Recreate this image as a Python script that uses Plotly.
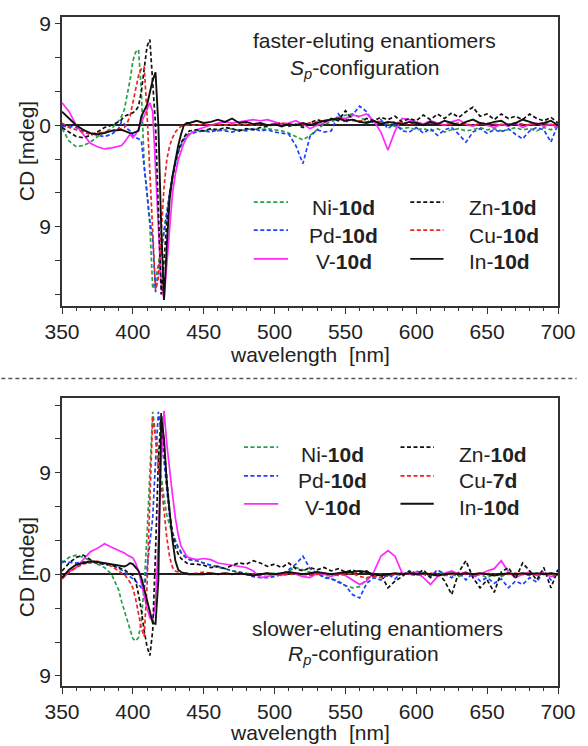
import plotly.graph_objects as go

# wavelength grid (nm) shared by both panels
wavelength = [350, 355, 360, 365, 370, 375, 380, 385,
              390, 392, 394, 396, 398, 400, 402, 404, 406, 408, 410, 412, 414,
              416, 418, 420, 422, 424, 426, 428, 430, 432, 434, 436, 438, 440,
              445, 450, 455, 460, 465, 470, 475, 480, 485, 490, 495, 500,
              505, 510, 515, 520, 525, 530, 535, 540, 545, 550, 555, 560,
              565, 570, 575, 580, 585, 590, 595, 600, 605, 610, 615, 620,
              625, 630, 635, 640, 645, 650, 655, 660, 665, 670, 675, 680,
              685, 690, 695, 700]

series = ["Ni", "Pd", "V", "Zn", "Cu", "In"]

# ---- faster-eluting enantiomers (Sp) ----
ni_top = [-0.3, -1.4, -1.9, -1.8, -1.5, -1.0, -0.6, -0.3,
          0.4, 0.8, 1.4, 2.6, 4.0, 5.7, 6.5, 6.7, 3.0, -3.5, -6.5, -8.8, -14.5,
          -13.8, -12.3, -10.8, -9.2, -7.6, -6.0, -4.6, -3.4, -2.4, -1.7, -1.2, -0.9, -0.7,
          -0.5, -0.5, -0.4, -0.5, -0.4, -0.3, -0.5, -0.4, -0.3, -0.4, -0.3, -0.4,
          -0.5, -0.7, -1.0, -1.3, -0.9, -0.4, 0.1, 0.3, 0.6, 0.9, 1.0, 0.7,
          0.4, 0.2, 0.3, 0.1, -0.1, -0.3, -0.2, -0.4, -0.3, -0.5, -0.3, -0.6,
          -0.4, -0.3, -0.5, -0.4, -0.2, -0.4, -0.3, -0.5, -0.4, -0.2, -0.4, -0.3,
          -0.5, -0.2, -0.4, -0.1]
pd_top = [-0.1, -0.1, -0.2, -0.5, -0.7, -0.9, -1.0, -0.8,
          -0.3, 0.35, 0.1, -0.3, -0.5, -0.9, -1.1, -1.2, -1.4, -3.5, -6.0, -8.5, -10.0,
          -14.8, -13.0, -11.3, -9.5, -7.8, -6.0, -4.5, -3.3, -2.4, -1.8, -1.3, -1.0, -0.8,
          -0.6, -0.5, -0.6, -0.4, -0.5, -0.6, -0.4, -0.5, -0.3, -0.5, -0.4, -0.6,
          -0.7, -0.8, -1.8, -3.4, -1.0, -0.4, -0.6, -0.5, 1.0, 0.2, 0.9, 1.7,
          1.2, 0.1, 0.5, -0.3, 0.2, -0.5, -0.6, -0.2, -0.7, -0.3, -0.9, -0.4,
          -0.2, -0.8, -1.5, -0.6, -0.3, -0.7, -0.4, -0.6, -0.3, -0.8, -1.2, -0.5,
          -0.2, -0.4, -1.5, 0.1]
v_top = [2.0, 1.2, 0.0, -0.8, -1.6, -1.9, -2.1, -2.0,
         -1.9, -1.8, -1.5, -1.2, -0.8, -1.1, -0.8, -0.3, 0.2, 0.8, 1.4, 2.0, 1.2,
         -4.0, -10.0, -14.0, -15.4, -12.0, -8.5, -6.0, -4.3, -3.1, -2.3, -1.6, -1.1, -0.8,
         -0.4, -0.2, 0.0, 0.2, 0.3, 0.2, 0.3, 0.4, 0.5, 0.4, 0.5, 0.3,
         0.1, 0.2, 0.4, 0.1, -0.3, 0.0, 0.2, 0.5, 0.7, 0.6, 0.9, 0.8,
         1.0, 0.4, -0.6, -2.2, -0.5, 0.6, 0.5, 0.3, 0.1, 0.4, 0.2, 0.0,
         0.3, 0.5, 0.1, -0.1, 0.2, 0.0, -0.2, 0.1, -0.1, 0.2, -0.2, 0.1,
         0.2, -0.1, 0.1, -0.2]
zn_top = [-0.2, -0.6, -1.0, -1.1, -0.9, -0.6, -0.2, 0.0,
          0.3, 0.5, 0.8, 0.9, 1.0, 1.1, 1.3, 1.7, 3.0, 5.2, 7.0, 7.6, 3.7,
          0.0, -7.5, -15.0, -12.0, -8.5, -6.0, -4.4, -3.2, -2.3, -1.6, -1.1, -0.7, -0.5,
          -0.4, -0.5, -0.3, -0.4, -0.2, -0.3, -0.5, -0.3, -0.4, -0.2, -0.1, 0.1,
          0.2, -0.1, 0.1, -0.2, 0.2, 0.5, 0.3, 0.6, 0.4, 1.3, 0.5, 0.3,
          0.6, 0.4, 0.7, 0.5, 0.8, 0.3, 0.6, 0.4, 0.9, 0.5, 1.0, 0.6,
          1.1, 0.7, 1.2, 1.6, 0.8, 1.0, 0.5, 1.0, 0.6, 0.8, 0.5, 1.0,
          0.6, 0.4, 0.7, 0.2]
cu_top = [0.2, -0.2, -0.4, -0.6, -0.8, -0.7, -0.6, -0.5,
          -0.4, -0.3, -0.2, 0.2, 0.8, 2.0, 3.3, 4.4, 5.0, 5.2, 1.0, -4.5, -10.5,
          -14.6, -13.5, -9.5, -5.5, -3.0, -1.8, -1.1, -0.6, -0.3, -0.1, 0.0, 0.0, 0.0,
          0.0, 0.1, 0.0, 0.1, 0.0, 0.1, 0.0, 0.1, 0.0, 0.1, 0.0, 0.1,
          0.2, 0.1, 0.0, 0.1, 0.2, 0.3, 0.4, 0.5, 0.6, 0.5, 0.4, 0.4,
          0.3, 0.4, 0.3, 0.2, 0.3, 0.2, 0.1, 0.2, 0.1, 0.2, 0.1, 0.0,
          0.1, 0.2, 0.1, 0.0, 0.1, 0.2, 0.1, 0.0, 0.1, 0.2, 0.1, 0.0,
          0.1, 0.2, 0.0, 0.1]
in_top = [1.2, 0.6, 0.0, -0.4, -0.7, -0.8, -0.7, -0.5,
          -0.4, -0.4, -0.5, -0.6, -0.7, -0.7, -0.6, -0.5, 0.8, 1.3, 1.8, 2.9, 4.0,
          4.7, 0.0, -9.0, -15.5, -10.5, -6.5, -4.5, -3.0, -1.8, -0.8, 0.0, 0.2, 0.2,
          0.4, 0.2, 0.3, 0.5, 0.3, 0.6, 0.2, 0.3, 0.1, 0.2, 0.0, 0.1,
          -0.1, 0.1, 0.0, 0.2, 0.0, 0.2, 0.4, 0.5, 0.6, 0.4, 0.5, 0.3,
          0.2, 0.4, 0.1, 0.3, 0.2, 0.1, 0.3, 0.2, 0.0, 0.3, 0.1, 0.4,
          0.2, 0.0, 0.3, 0.5, 0.2, 0.1, 0.3, 0.4, 0.0, 0.2, 0.5, 0.3,
          0.1, 0.2, 0.4, 0.0]

# ---- slower-eluting enantiomers (Rp) ----
ni_bot = [1.0, 1.5, 1.7, 1.5, 1.2, 0.9, 0.6, 0.0,
          -1.4, -2.4, -3.2, -4.1, -5.0, -5.7, -5.9, -5.6, -4.0, -1.0, 3.5, 8.5, 14.4,
          12.5, 10.5, 8.5, 6.8, 5.2, 4.3, 3.5, 2.9, 2.4, 2.0, 1.7, 1.5, 1.3,
          1.2, 1.0, 0.8, 0.6, 0.5, 0.3, 0.2, 0.1, 0.0, -0.1, 0.0, 0.1,
          0.0, 0.3, 0.6, 0.4, 0.2, 0.0, -0.2, -0.4, -0.6, -1.0, -1.2, -1.1,
          -0.4, -0.1, 0.0, -0.2, 0.0, -0.1, 0.2, 0.0, 0.1, -0.2, 0.0, 0.2,
          0.0, -0.2, 0.1, -0.1, 0.0, -0.3, 0.0, -0.2, 0.1, -0.1, 0.0, 0.2,
          -0.1, 0.0, 0.1, -0.1]
pd_bot = [1.15, 1.1, 1.0, 1.1, 1.0, 1.0, 0.9, 0.8,
          0.55, 0.4, 0.2, 0.0, -0.2, -0.4, -0.6, -0.9, -1.2, -1.3, 0.5, 2.8, 5.0,
          10.0, 14.4, 12.5, 10.0, 7.5, 5.0, 3.7, 2.9, 2.3, 1.9, 1.6, 1.4, 1.3,
          1.2, 1.0, 0.8, 0.7, 0.5, 0.3, 0.2, 0.0, -0.2, -0.3, -0.3, -0.2,
          0.0, 0.4, 0.9, 1.6, 0.5, 0.1, -0.3, -0.4, -0.7, -1.0, -1.8, -2.1,
          -0.8, -0.3, -0.5, 0.0, -0.4, 0.2, 0.0, 0.3, 0.0, -0.2, 0.4, 0.0,
          -0.3, 0.2, -0.5, 0.1, -0.6, -0.3, -0.8, -0.4, -1.2, -0.6, -0.9, -0.3,
          -0.7, 0.3, -0.5, 0.4]
v_bot = [-0.4, 0.2, 0.6, 1.3, 2.0, 2.3, 2.7, 2.4,
         2.1, 2.0, 1.9, 1.7, 1.6, 1.45, 1.0, 0.3, -0.8, -2.0, -3.0, -3.85, -4.1,
         -2.4, 3.0, 10.0, 14.5, 11.5, 9.0, 7.0, 5.0, 3.5, 2.5, 2.0, 1.6, 1.45,
         1.3, 1.4, 1.3, 1.0, 0.9, 0.8, 0.7, 0.6, 0.3, -0.3, -0.2, 0.0,
         -0.1, 0.2, 0.0, -0.2, -0.3, 0.1, 0.0, -0.2, 0.1, -0.1, -0.5, -0.9,
         -0.6, 0.2, 1.6, 2.1, 1.6, 0.1, 0.0, 0.2, -0.3, -0.9, -0.2, 0.1,
         0.3, 0.0, 0.2, -0.2, 0.0, 0.3, 0.5, 1.2, 0.2, -0.3, 0.0, 0.2,
         -0.1, 0.1, -0.2, 0.0]
zn_bot = [0.3, 1.0, 1.5, 1.7, 1.3, 1.0, 0.9, 0.8,
          0.6, 0.5, 0.4, 0.2, 0.1, -0.1, -0.6, -1.8, -3.2, -5.0, -6.4, -7.2, -5.0,
          2.0, 10.0, 14.3, 11.5, 8.5, 5.5, 3.5, 2.4, 1.8, 1.4, 1.2, 1.0, 0.9,
          0.9, 0.8, 0.6, 0.7, 0.5, 0.8, 1.0, 0.9, 1.2, 1.0, 0.7, 0.9,
          0.6, 1.0, 0.5, 0.3, 0.6, 0.4, 0.6, 0.3, 0.5, 0.2, 0.4, 0.1,
          0.3, -0.2, 0.0, -1.2, -0.6, -0.2, 0.3, 0.0, 0.4, -0.3, 0.2, -0.6,
          -1.8, 0.2, 1.2, -0.3, -1.2, -0.5, -1.6, 0.2, 0.6, -0.4, 1.0, 0.3,
          -0.5, 0.6, -1.2, 0.4]
cu_bot = [-0.4, 0.2, 0.6, 0.9, 1.1, 1.15, 1.0, 0.7,
          0.3, 0.1, 0.0, -0.3, -0.7, -1.2, -2.2, -3.5, -4.8, -5.5, -1.0, 6.5, 14.0,
          12.0, 9.5, 8.0, 5.5, 3.2, 1.5, 0.6, 0.3, 0.2, 0.1, 0.1, 0.0, 0.0,
          0.1, 0.2, 0.1, 0.0, 0.1, 0.0, 0.1, 0.0, -0.1, 0.0, 0.1, 0.0,
          -0.1, 0.0, 0.1, 0.0, -0.1, 0.0, 0.1, 0.0, -0.1, 0.0, 0.1, -0.2,
          -0.3, -0.2, -0.3, -0.1, 0.0, 0.1, 0.0, -0.1, 0.0, 0.1, 0.0, -0.1,
          0.0, 0.1, 0.0, -0.1, 0.0, 0.1, 0.0, -0.1, 0.0, 0.1, 0.0, -0.1,
          0.0, 0.1, 0.0, -0.1]
in_bot = [-0.3, 0.4, 0.85, 1.0, 1.15, 1.1, 1.0, 0.9,
          0.8, 0.75, 0.7, 0.8, 1.0, 0.9, 0.6, 0.3, -0.3, -1.2, -2.3, -3.3, -4.3,
          -4.4, -0.5, 14.0, 12.0, 8.0, 5.5, 3.0, 1.2, 0.4, 0.2, 0.1, 0.1, 0.0,
          0.0, 0.0, 0.1, 0.0, 0.1, 0.0, 0.1, 0.0, -0.1, 0.0, 0.1, 0.0,
          0.1, 0.2, 0.1, 0.0, 0.1, 0.2, 0.1, 0.0, 0.1, 0.2, 0.2, 0.3,
          0.2, 0.0, -0.1, 0.0, 0.1, 0.0, 0.1, 0.0, 0.1, 0.0, -0.1, 0.0,
          0.1, 0.0, 0.1, 0.0, 0.1, 0.0, -0.1, 0.0, 0.1, 0.0, 0.1, 0.0,
          0.1, 0.0, 0.1, 0.0]

top_data = [ni_top, pd_top, v_top, zn_top, cu_top, in_top]
bot_data = [ni_bot, pd_bot, v_bot, zn_bot, cu_bot, in_bot]
top_labels = ["Ni-<b>10d</b>", "Pd-<b>10d</b>", "V-<b>10d</b>",
              "Zn-<b>10d</b>", "Cu-<b>10d</b>", "In-<b>10d</b>"]
bot_labels = ["Ni-<b>10d</b>", "Pd-<b>10d</b>", "V-<b>10d</b>",
              "Zn-<b>10d</b>", "Cu-<b>7d</b>", "In-<b>10d</b>"]

# labelled y ticks (the minus sign is missing in the original, so -9 reads "9")
top_yticks = [-9, 0, 9]
bot_yticks = [-9, 0, 9]
ytick_text = ["9", "0", "9"]

DASH = "4px,2.5px"
styles = {
    "Ni": dict(color="#2a9e48", dash=DASH, width=1.7),
    "Pd": dict(color="#2040ff", dash=DASH, width=1.7),
    "V": dict(color="#ff28ff", dash="solid", width=1.7),
    "Zn": dict(color="#111111", dash=DASH, width=1.7),
    "Cu": dict(color="#ee2424", dash=DASH, width=1.7),
    "In": dict(color="#111111", dash="solid", width=1.9),
}

FONT = "Liberation Sans, Arial, sans-serif"
W, H = 588, 746
L, R, T, B = 62, 19, 14, 60


def fx(p):
    return (p - L) / (W - L - R)


def fy(p):
    return (H - B - p) / (H - T - B)


fig = go.Figure()
for name, y in zip(series, top_data):
    fig.add_trace(go.Scatter(x=wavelength, y=y, mode="lines", line=styles[name],
                             xaxis="x", yaxis="y", showlegend=False))
for name, y in zip(series, bot_data):
    fig.add_trace(go.Scatter(x=wavelength, y=y, mode="lines", line=styles[name],
                             xaxis="x2", yaxis="y2", showlegend=False))

xaxis_style = dict(
    range=[350, 700], dtick=50, tick0=350, ticks="outside", ticklen=6, tickwidth=1.4,
    tickcolor="#333", showline=True, linecolor="#333", linewidth=1.6, mirror=True,
    showgrid=False, zeroline=False, tickfont=dict(family=FONT, size=21, color="#222"),
    minor=dict(dtick=10, ticks="outside", ticklen=3.5, tickwidth=1.2, tickcolor="#333"),
)
yaxis_style = dict(
    ticks="outside", ticklen=5, tickwidth=1.4, tickcolor="#333",
    showline=True, linecolor="#333", linewidth=1.6, mirror=True, showgrid=False,
    zeroline=True, zerolinecolor="#222", zerolinewidth=1.5,
    tickfont=dict(family=FONT, size=21, color="#222"),
    minor=dict(dtick=3, tick0=0, ticks="outside", ticklen=5, tickwidth=1.4, tickcolor="#333"),
)

fig.update_layout(
    width=W, height=H, margin=dict(l=L, r=R, t=T, b=B),
    paper_bgcolor="white", plot_bgcolor="white", showlegend=False,
    xaxis=dict(domain=[0, 1], anchor="y", **xaxis_style),
    yaxis=dict(domain=[fy(304), 1], anchor="x", range=[-16, 9.6],
               tickvals=top_yticks, ticktext=ytick_text, **yaxis_style),
    xaxis2=dict(domain=[0, 1], anchor="y2", **xaxis_style),
    yaxis2=dict(domain=[0, fy(397)], anchor="x2", range=[-9.9, 15.6],
                tickvals=bot_yticks, ticktext=ytick_text, **yaxis_style),
)

txt = dict(family=FONT, size=21, color="#222")


def note(text, x, y, xanchor="center", angle=0):
    fig.add_annotation(text=text, x=fx(x), y=fy(y), xref="paper", yref="paper",
                       xanchor=xanchor, yanchor="middle", showarrow=False,
                       font=txt, textangle=angle)


# axis titles
for yc in (149, 567):
    note("CD [mdeg]", 26, yc, angle=-90)
note("wavelength  [nm]", 316, 353)
note("wavelength  [nm]", 316, 733)

# panel captions
note("faster-eluting enantiomers", 381, 38)
note("<i>S</i><sub><i>p</i></sub>-configuration", 371, 66)
note("slower-eluting enantiomers", 384, 628)
note("<i>R</i><sub><i>p</i></sub>-configuration", 370, 655)

# legends (two columns of three)
legend_layout = [
    # (labels, left sample x, right sample x, left text centre, right text left, sample rows, text rows)
    (top_labels, (258, 293), (418, 452), 350, 476, (200, 228, 257), (205, 233, 260)),
    (bot_labels, (248, 283), (408, 442), 339, 466, (446, 475, 503), (453, 480, 507)),
]
for labels, lcol, rcol, ltxt, rtxt, srows, trows in legend_layout:
    for i, name in enumerate(series):
        col, row = divmod(i, 3)
        xs = lcol if col == 0 else rcol
        st = styles[name]
        fig.add_shape(type="line", xref="paper", yref="paper",
                      x0=fx(xs[0]), x1=fx(xs[1]), y0=fy(srows[row]), y1=fy(srows[row]),
                      line=dict(color=st["color"], dash=st["dash"], width=st["width"]))
        if col == 0:
            note(labels[i], ltxt, trows[row])
        else:
            note(labels[i], rtxt, trows[row], xanchor="left")

# dashed separator between the panels
fig.add_shape(type="line", xref="paper", yref="paper", x0=fx(0), x1=fx(W),
              y0=fy(377), y1=fy(377), line=dict(color="#555", dash="4px,3px", width=1.5))

# drop the default page margin so the figure sits at the window's corner
fig.write_html("out.html", config={"displayModeBar": False},
               post_script="document.body.style.margin='0';")
